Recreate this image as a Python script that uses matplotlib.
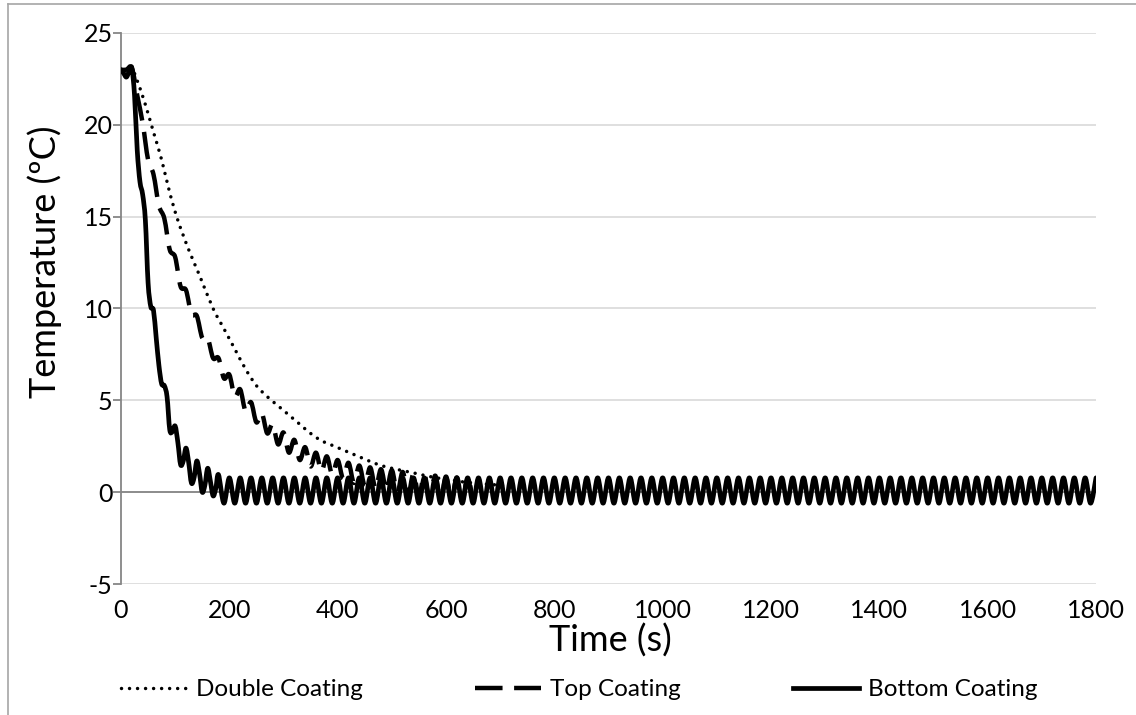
import matplotlib
matplotlib.use("Agg")
import matplotlib.pyplot as plt
from matplotlib.path import Path
from matplotlib.patches import PathPatch
from matplotlib.lines import Line2D
import numpy as np

plt.rcParams['font.family'] = ['Lato', 'DejaVu Sans']
plt.rcParams['axes.unicode_minus'] = False

# Bottom coating, transient part (s, degC)
bottom_t = [0, 5, 10, 15, 20, 25, 30, 35, 40, 45, 50, 55, 60, 65, 70, 75, 80, 85,
            90, 95, 100, 105, 110, 115, 120, 125, 130, 135, 140, 145, 150, 155,
            160, 165, 170, 175, 180]
bottom_T = [23.0, 22.8, 22.6, 22.9, 23.1, 21.6, 18.6, 16.9, 16.2, 14.8, 11.4, 10.1,
            9.9, 8.4, 6.9, 5.9, 5.8, 5.2, 3.4, 3.3, 3.6, 2.7, 1.5, 1.7, 2.4, 1.6,
            0.5, 0.8, 1.7, 1.0, 0.0, 0.4, 1.3, 0.6, -0.2, 0.2, 0.95]

# steady oscillation after ~190 s: crests every 20 s, troughs in between
steady_hi = 0.78
steady_lo = -0.6
steady_t = list(range(190, 1801, 10))
steady_T = [steady_hi if (t // 10) % 2 == 0 else steady_lo for t in steady_t]

# Top coating (s, degC)
top_t = list(range(0, 651, 10))
top_T = [23.0, 23.0, 23.1, 21.6, 20.1, 18.1, 17.3, 15.6, 14.9, 13.2,
         12.8, 11.2, 11.0, 9.7, 9.6, 8.4, 8.4, 7.3, 7.3, 6.2,
         6.4, 5.2, 5.6, 4.4, 4.9, 3.8, 4.3, 3.2, 3.7, 2.6,
         3.25, 2.15, 2.85, 1.75, 2.45, 1.4, 2.15, 1.15, 1.95, 0.95,
         1.75, 0.75, 1.6, 0.5, 1.45, 0.35, 1.35, 0.2, 1.25, 0.1,
         1.2, -0.05, 1.1, -0.15, 1.0, -0.22, 0.95, -0.33, 0.9, -0.37,
         0.85, -0.4, 0.8, -0.45, 0.78, -0.5]

# Double coating (s, degC)
double_t = [0, 20, 30, 45, 60, 75, 90, 105, 125, 145, 170, 190, 210, 230, 250,
            270, 290, 310, 330, 350, 370, 390, 410, 430, 450, 475, 500, 540,
            570, 610, 650, 700, 720]
double_T = [23.0, 23.0, 22.4, 21.1, 19.6, 18.1, 16.3, 14.8, 13.2, 11.8, 10.0,
            8.9, 7.8, 6.7, 5.8, 5.2, 4.7, 4.2, 3.7, 3.2, 2.8, 2.55, 2.3, 2.05,
            1.8, 1.5, 1.3, 1.05, 0.85, 0.65, 0.5, 0.38, 0.33]

x_ticks = [0, 200, 400, 600, 800, 1000, 1200, 1400, 1600, 1800]
y_ticks = [-5, 0, 5, 10, 15, 20, 25]


def smooth_path(xs, ys):
    # Excel-style smoothed line: cubic Bezier segments (Catmull-Rom tangents)
    p = np.column_stack([xs, ys]).astype(float)
    n = len(p)
    verts = [p[0]]
    codes = [Path.MOVETO]
    for i in range(n - 1):
        p0 = p[max(i - 1, 0)]
        p3 = p[min(i + 2, n - 1)]
        c1 = p[i] + (p[i + 1] - p0) / 6
        c2 = p[i + 1] - (p3 - p[i]) / 6
        verts += [c1, c2, p[i + 1]]
        codes += [Path.CURVE4] * 3
    return Path(verts, codes)


fig = plt.figure(figsize=(11.36, 7.15), dpi=100)
ax = fig.add_axes([121 / 1136, 1 - 584 / 715, 975 / 1136, 551 / 715])

styles = [
    ('Double Coating', double_t, double_T, dict(lw=2.5, linestyle=(0, (0.01, 2.3)), capstyle='round')),
    ('Top Coating', top_t, top_T, dict(lw=3.2, linestyle=(0, (6.2, 2.6)), capstyle='butt')),
    ('Bottom Coating', bottom_t + steady_t, bottom_T + steady_T, dict(lw=3.4, linestyle='-', capstyle='round')),
]
handles = []
for name, xs, ys, st in styles:
    patch = PathPatch(smooth_path(xs, ys), fill=False, edgecolor='black',
                      lw=st['lw'], linestyle=st['linestyle'], capstyle=st['capstyle'],
                      joinstyle='round', zorder=3)
    ax.add_patch(patch)
    handles.append(Line2D([], [], color='black', lw=st['lw'], linestyle=st['linestyle'],
                          dash_capstyle=st['capstyle'], label=name))

ax.set_xlim(0, 1800)
ax.set_ylim(-5, 25)
ax.set_xticks(x_ticks)
ax.set_yticks(y_ticks)
ax.grid(axis='y', color='#d9d9d9', lw=1.2)
ax.set_axisbelow(True)
ax.axhline(0, color='#868686', lw=1.3, zorder=1.5)

for s in ['top', 'right', 'bottom']:
    ax.spines[s].set_visible(False)
ax.spines['left'].set_color('#868686')
ax.spines['left'].set_linewidth(1.3)

ax.tick_params(axis='x', length=0, pad=11, labelsize=18)
ax.tick_params(axis='y', length=6, width=1.3, color='#868686', pad=0, labelsize=18)

ax.set_xlabel('Time (s)', fontsize=26)
ax.set_ylabel('Temperature (ºC)', fontsize=26)
ax.xaxis.label.set_va('center')
ax.xaxis.set_label_coords(0.5015, -0.102)
ax.yaxis.label.set_va('center')
ax.yaxis.set_label_coords(-0.078, 0.584)

fig.legend(handles=handles, loc='center', bbox_to_anchor=(0.51, 0.035), ncol=3,
           frameon=False, fontsize=17.5, handlelength=2.7, handletextpad=0.4,
           columnspacing=4.6)

# chart area border
fig.add_artist(Line2D([8 / 1136, 8 / 1136], [0, 1 - 4 / 715], color='#a6a6a6', lw=1.2))
fig.add_artist(Line2D([8 / 1136, 1], [1 - 4 / 715, 1 - 4 / 715], color='#a6a6a6', lw=1.2))

fig.savefig('out.png', dpi=100)
